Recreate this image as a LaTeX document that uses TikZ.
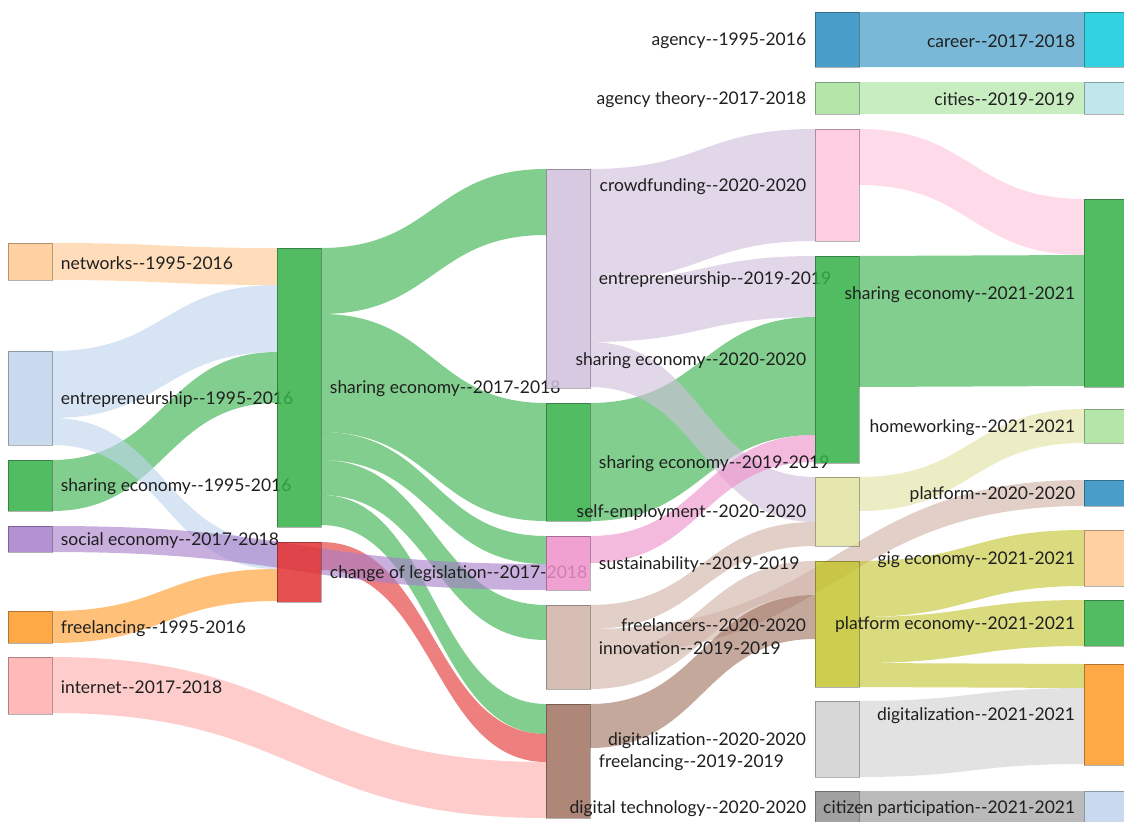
\documentclass[tikz,border=0pt]{standalone}
\usepackage{fontspec}
\setmainfont{Lato}
\usetikzlibrary{calc}
\pgfdeclarelayer{back}
\pgfsetlayers{back,main}

\definecolor{cGreen}{RGB}{52,176,72}
\definecolor{cPeach}{RGB}{255,200,143}
\definecolor{cBlueL}{RGB}{191,212,235}
\definecolor{cPurple}{RGB}{167,126,202}
\definecolor{cOrange}{RGB}{255,153,38}
\definecolor{cPinkL}{RGB}{255,173,173}
\definecolor{cRed}{RGB}{226,49,49}
\definecolor{cLav}{RGB}{208,191,220}
\definecolor{cMagenta}{RGB}{238,143,202}
\definecolor{cBrownL}{RGB}{208,179,167}
\definecolor{cBrown}{RGB}{161,114,96}
\definecolor{cPinkXL}{RGB}{255,196,220}
\definecolor{cYellowL}{RGB}{226,226,161}
\definecolor{cOlive}{RGB}{196,196,49}
\definecolor{cGreyL}{RGB}{208,208,208}
\definecolor{cGrey}{RGB}{144,144,144}
\definecolor{cBlue}{RGB}{40,141,191}
\definecolor{cGreenL}{RGB}{167,226,155}
\definecolor{cCyan}{RGB}{14,202,220}
\definecolor{cCyanL}{RGB}{179,226,232}

\tikzstyle{bar} = [rectangle, anchor=north west, inner sep=0pt, outer sep=0pt, minimum width=33pt, draw=black, draw opacity=0.3, line width=0.75pt, fill opacity=0.85]
\tikzset{tall/.style={minimum height=#1*0.75pt}}
\tikzstyle{lab} = [font=\fontsize{13.1}{15}\selectfont, inner sep=0pt, text=black!88, text opacity=1, label distance=6.5pt, yshift=-1.1pt]
\tikzstyle{band} = [fill opacity=0.62]

\newcommand{\dsep}{-\kern0pt-}
% band from #1 (offset #2) to #3 (offset #4), width #5, colour #6
\newcommand{\flow}[6]{%
  \path (#1.north east) ++(0,#2) coordinate (fa) ++(0,#5) coordinate (fb)
        (#3.north west) ++(0,#4) coordinate (fc) ++(0,#5) coordinate (fd);
  \fill[band, #6] let \p1=(fa), \p2=(fb), \p3=(fc), \p4=(fd) in
    (\p1) .. controls ({(\x1+\x3)/2},\y1) and ({(\x1+\x3)/2},\y3) .. (\p3)
    -- (\p4) .. controls ({(\x1+\x3)/2},\y4) and ({(\x1+\x3)/2},\y2) .. (\p2) -- cycle;
}

\begin{document}
\begin{tikzpicture}[x=0.75pt, y=-0.75pt]
\useasboundingbox (0,0) rectangle (1124,821);

% Nodes, column 1
\node (net0) [bar, tall=37, fill=cPeach, label={[lab]right:{networks\dsep1995-2016}}] at (8,243) {};
\node (ent0) [bar, tall=94, fill=cBlueL, label={[lab]right:{entrepreneurship\dsep1995-2016}}] at (8,351) {};
\node (sha0) [bar, tall=51, fill=cGreen, label={[lab]right:{sharing economy\dsep1995-2016}}] at (8,460) {};
\node (soc0) [bar, tall=26, fill=cPurple, label={[lab]right:{social economy\dsep2017-2018}}] at (8,526) {};
\node (fre0) [bar, tall=32, fill=cOrange, label={[lab]right:{freelancing\dsep1995-2016}}] at (8,611) {};
\node (int0) [bar, tall=57, fill=cPinkL, label={[lab]right:{internet\dsep2017-2018}}] at (8,657) {};

% Nodes, column 2
\node (sha1) [bar, tall=279, fill=cGreen, label={[lab]right:{sharing economy\dsep2017-2018}}] at (277,248) {};
\node (law1) [bar, tall=60, fill=cRed, label={[lab]right:{change of legislation\dsep2017-2018}}] at (277,542) {};

% Nodes, column 3
\node (ent2) [bar, tall=219, fill=cLav, label={[lab]right:{entrepreneurship\dsep2019-2019}}] at (546,169) {};
\node (sha2) [bar, tall=118, fill=cGreen, label={[lab]right:{sharing economy\dsep2019-2019}}] at (546,403) {};
\node (sus2) [bar, tall=54, fill=cMagenta, label={[lab]right:{sustainability\dsep2019-2019}}] at (546,536) {};
\node (inn2) [bar, tall=84, fill=cBrownL, label={[lab]right:{innovation\dsep2019-2019}}] at (546,605) {};
\node (fre2) [bar, tall=114, fill=cBrown, label={[lab]right:{freelancing\dsep2019-2019}}] at (546,704) {};

% Nodes, column 4
\node (age3) [bar, tall=55, fill=cBlue, label={[lab]left:{agency\dsep1995-2016}}] at (815,12) {};
\node (agt3) [bar, tall=32, fill=cGreenL, label={[lab]left:{agency theory\dsep2017-2018}}] at (815,82) {};
\node (cro3) [bar, tall=112, fill=cPinkXL, label={[lab]left:{crowdfunding\dsep2020-2020}}] at (815,129) {};
\node (sha3) [bar, tall=207, fill=cGreen, label={[lab]left:{sharing economy\dsep2020-2020}}] at (815,256) {};
\node (sel3) [bar, tall=69, fill=cYellowL, label={[lab]left:{self-employment\dsep2020-2020}}] at (815,477) {};
\node (frl3) [bar, tall=126, fill=cOlive, label={[lab]left:{freelancers\dsep2020-2020}}] at (815,561) {};
\node (dig3) [bar, tall=76, fill=cGreyL, label={[lab]left:{digitalization\dsep2020-2020}}] at (815,701) {};
\node (dte3) [bar, tall=33, fill=cGrey, label={[lab]left:{digital technology\dsep2020-2020}}] at (815,791) {};

% Nodes, column 5
\node (car4) [bar, tall=55, fill=cCyan, label={[lab]left:{career\dsep2017-2018}}] at (1084,12) {};
\node (cit4) [bar, tall=32, fill=cCyanL, label={[lab]left:{cities\dsep2019-2019}}] at (1084,82) {};
\node (sha4) [bar, tall=188, fill=cGreen, label={[lab]left:{sharing economy\dsep2021-2021}}] at (1084,199) {};
\node (hom4) [bar, tall=34, fill=cGreenL, label={[lab]left:{homeworking\dsep2021-2021}}] at (1084,409) {};
\node (pla4) [bar, tall=26, fill=cBlue, label={[lab]left:{platform\dsep2020-2020}}] at (1084,480) {};
\node (gig4) [bar, tall=56, fill=cPeach, label={[lab]left:{gig economy\dsep2021-2021}}] at (1084,530) {};
\node (ple4) [bar, tall=46, fill=cGreen, label={[lab]left:{platform economy\dsep2021-2021}}] at (1084,600) {};
\node (dig4) [bar, tall=101, fill=cOrange, label={[lab]left:{digitalization\dsep2021-2021}}] at (1084,664) {};
\node (cip4) [bar, tall=33, fill=cBlueL, label={[lab]left:{citizen participation\dsep2021-2021}}] at (1084,791) {};

% Bands
\begin{pgfonlayer}{back}
\flow{net0}{0}{sha1}{0}{37}{cPeach}
\flow{sha0}{0}{sha1}{104}{51}{cGreen}
\flow{ent0}{0}{sha1}{37}{67}{cBlueL}
\flow{ent0}{67}{law1}{0}{27}{cBlueL}
\flow{fre0}{0}{law1}{27}{32}{cOrange}
\flow{int0}{0}{fre2}{58}{56}{cPinkL}
\flow{sha1}{0}{ent2}{0}{66}{cGreen}
\flow{sha1}{66}{sha2}{0}{118}{cGreen}
\flow{sha1}{184}{sus2}{0}{28}{cGreen}
\flow{sha1}{212}{inn2}{0}{35}{cGreen}
\flow{sha1}{247}{fre2}{0}{30}{cGreen}
\flow{law1}{0}{fre2}{30}{28}{cRed}
\flow{soc0}{0}{sus2}{28}{26}{cPurple}
\flow{ent2}{0}{cro3}{0}{112}{cLav}
\flow{ent2}{112}{sha3}{0}{61}{cLav}
\flow{sha2}{0}{sha3}{61}{118}{cGreen}
\flow{ent2}{173}{sel3}{0}{45}{cLav}
\flow{sus2}{0}{sha3}{179}{27}{cMagenta}
\flow{inn2}{0}{sel3}{45}{24}{cBrownL}
\flow{inn2}{24}{pla4}{0}{26}{cBrownL}
\flow{inn2}{50}{frl3}{0}{34}{cBrownL}
\flow{fre2}{0}{frl3}{34}{44}{cBrown}
\flow{age3}{0}{car4}{0}{55}{cBlue}
\flow{agt3}{0}{cit4}{0}{32}{cGreenL}
\flow{cro3}{0}{sha4}{0}{56}{cPinkXL}
\flow{sha3}{0}{sha4}{56}{131}{cGreen}
\flow{sel3}{0}{hom4}{0}{34}{cYellowL}
\flow{frl3}{0}{gig4}{0}{56}{cOlive}
\flow{frl3}{56}{ple4}{0}{46}{cOlive}
\flow{frl3}{102}{dig4}{0}{24}{cOlive}
\flow{dig3}{0}{dig4}{24}{76}{cGreyL}
\flow{dte3}{0}{cip4}{0}{33}{cGrey}
\end{pgfonlayer}

\end{tikzpicture}
\end{document}
